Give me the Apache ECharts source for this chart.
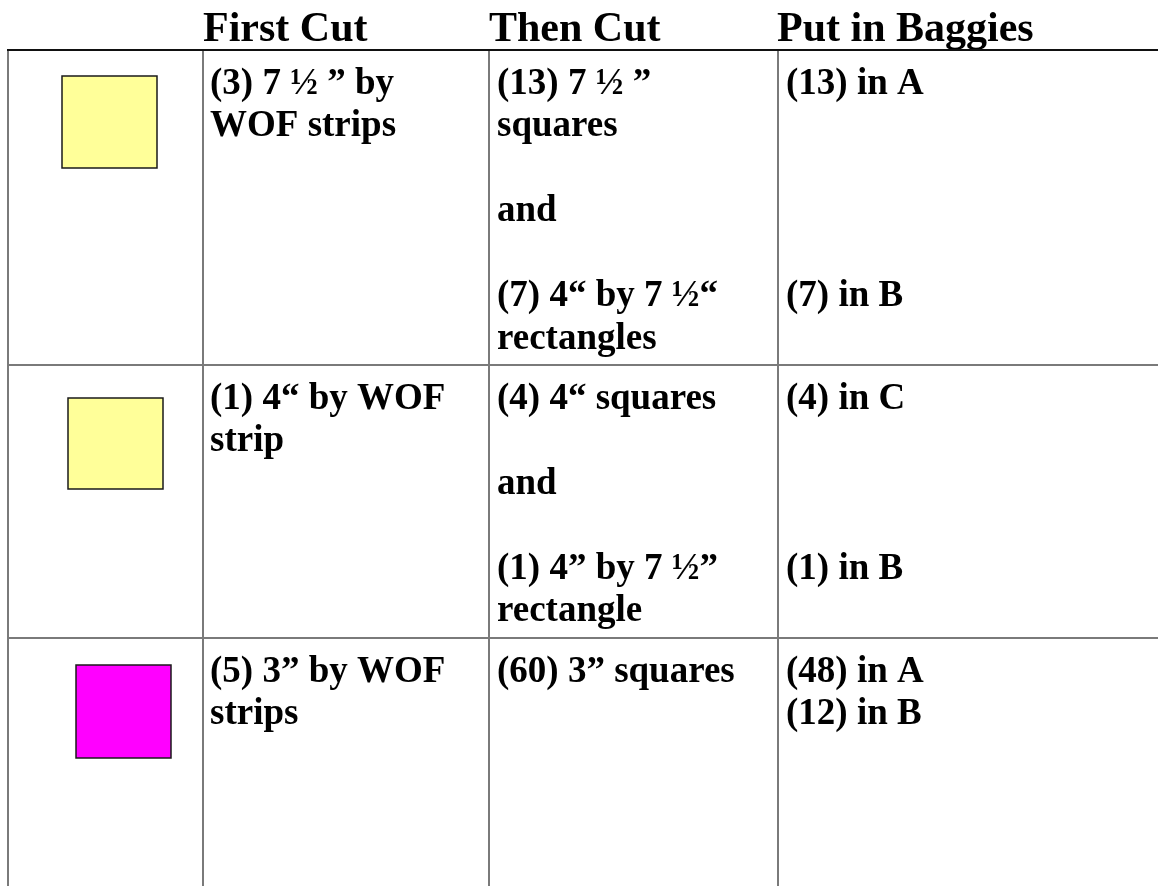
<!DOCTYPE html>
<html>
<head>
<meta charset="utf-8">
<script src="https://cdn.jsdelivr.net/npm/echarts@6/dist/echarts.min.js"></script>
<style>
  html, body { margin: 0; padding: 0; background: #ffffff; }
  #chart { width: 1158px; height: 886px; }
</style>
</head>
<body>
<div id="chart"></div>
<script>
// ---- data ----
const headers = ['First Cut', 'Then Cut', 'Put in Baggies'];
const swatchColors = ['#FFFF99', '#FFFF99', '#FF00FF'];
const firstCut = [
  ['(3) 7 ½ ” by', 'WOF strips'],
  ['(1) 4“ by WOF', 'strip'],
  ['(5) 3” by WOF', 'strips']
];
const thenCut = [
  ['(13) 7 ½ ”', 'squares', '', 'and', '', '(7) 4“ by 7 ½“', 'rectangles'],
  ['(4) 4“ squares', '', 'and', '', '(1) 4” by 7 ½”', 'rectangle'],
  ['(60) 3” squares']
];
const baggies = [
  ['(13) in A', '', '', '', '', '(7) in B'],
  ['(4) in C', '', '', '', '(1) in B'],
  ['(48) in A', '(12) in B']
];

// ---- layout ----
const W = 1158, H = 886;
const colEdges = [8, 203, 489, 778, W];
const rowEdges = [50, 365, 638, H];
const swatchBoxes = [[62, 76, 95, 92], [68, 398, 95, 91], [76, 665, 95, 93]];
const textPad = [0, 7, 8, 8];
const FONT = '"Liberation Serif", "Times New Roman", serif';
const bodySize = 37, bodyLH = 42.5, headSize = 42;

const chart = echarts.init(document.getElementById('chart'), null, { renderer: 'canvas' });

function frameItem(params, api) {
  const children = [];
  const p = (x, y) => api.coord([x, y]);
  headers.forEach((h, i) => {
    const pt = p(colEdges[i + 1] + (i === 2 ? -1 : 0), 9);
    children.push({
      type: 'text', x: pt[0], y: pt[1],
      style: { text: h, fill: '#000', font: 'bold ' + headSize + 'px ' + FONT,
               lineHeight: headSize, verticalAlign: 'top', align: 'left' }
    });
  });
  for (let c = 0; c < 4; c++) {
    const a = p(colEdges[c], rowEdges[0]), b = p(colEdges[c], H);
    children.push({ type: 'line', shape: { x1: a[0], y1: a[1], x2: b[0], y2: b[1] },
      style: { stroke: '#7a7a7a', lineWidth: 2 } });
  }
  for (let r = 1; r < rowEdges.length - 1; r++) {
    const a = p(colEdges[0] - 1, rowEdges[r]), b = p(W, rowEdges[r]);
    children.push({ type: 'line', shape: { x1: a[0], y1: a[1], x2: b[0], y2: b[1] },
      style: { stroke: '#7a7a7a', lineWidth: 2 } });
  }
  const t1 = p(colEdges[0] - 1, rowEdges[0]), t2 = p(W, rowEdges[0]);
  children.push({ type: 'line', shape: { x1: t1[0], y1: t1[1], x2: t2[0], y2: t2[1] },
    style: { stroke: '#111', lineWidth: 2 } });
  return { type: 'group', children };
}

function rowItem(params, api) {
  const r = api.value(0);
  const children = [];
  const p = (x, y) => api.coord([x, y]);
  const sb = swatchBoxes[r];
  const s0 = p(sb[0], sb[1]);
  children.push({ type: 'rect', shape: { x: s0[0], y: s0[1], width: sb[2], height: sb[3] },
    style: { fill: swatchColors[r], stroke: '#1a1a1a', lineWidth: 1.5 } });
  const cols = [firstCut[r], thenCut[r], baggies[r]];
  cols.forEach((lines, i) => {
    const c = i + 1;
    const pt = p(colEdges[c] + textPad[c], rowEdges[r] + 13);
    children.push({ type: 'text', x: pt[0], y: pt[1],
      style: { text: lines.join('\n'), fill: '#000', font: 'bold ' + bodySize + 'px ' + FONT,
               lineHeight: bodyLH, verticalAlign: 'top', align: 'left' } });
  });
  return { type: 'group', children };
}

chart.setOption({
  animation: false,
  grid: { left: 0, right: 0, top: 0, bottom: 0 },
  xAxis: { type: 'value', min: 0, max: W, show: false },
  yAxis: { type: 'value', min: 0, max: H, inverse: true, show: false },
  series: [
    { type: 'custom', coordinateSystem: 'cartesian2d', data: [[0]], renderItem: frameItem, silent: true, clip: false },
    { type: 'custom', coordinateSystem: 'cartesian2d', data: [[0], [1], [2]], renderItem: rowItem, silent: true, clip: false }
  ]
});
</script>
</body>
</html>
